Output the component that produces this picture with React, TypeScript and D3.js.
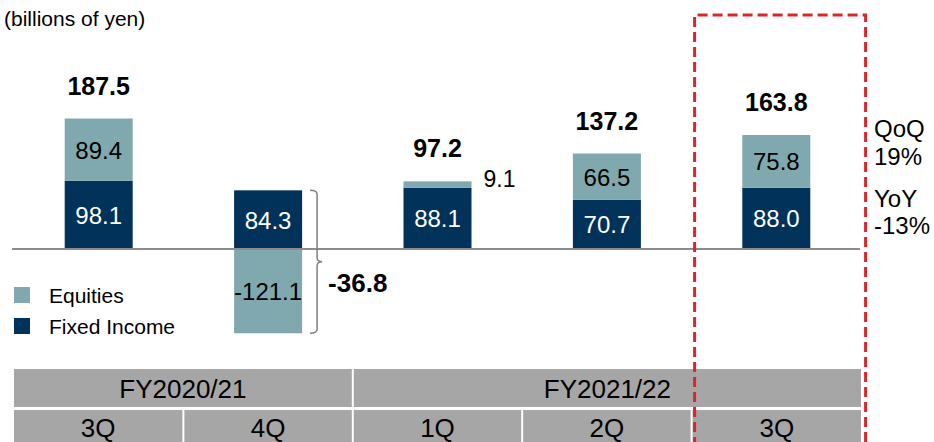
import { useEffect, useRef } from "react"
import * as d3 from "d3"

// data (billions of yen)
const quarters = ["3Q", "4Q", "1Q", "2Q", "3Q"]
const fixedIncome = [98.1, 84.3, 88.1, 70.7, 88.0]
const equities = [89.4, -121.1, 9.1, 66.5, 75.8]
const totals = [187.5, -36.8, 97.2, 137.2, 163.8]
const fiscalYears = [
  { label: "FY2020/21", from: 0, to: 1 },
  { label: "FY2021/22", from: 2, to: 4 },
]
const notes = ["QoQ", "19%", "YoY", "-13%"]

const NAVY = "#00325a"
const TEAL = "#7fa9ae"
const GRAY = "#a6a6a6"
const FONT = "'Liberation Sans', Arial, sans-serif"

const App = () => {
  const svgRef = useRef<SVGSVGElement>(null)

  useEffect(() => {
    const width = 934
    const height = 442
    const baseY = 249

    const svg = d3.select(svgRef.current)
    svg.selectAll("*").remove()
    svg.attr("width", width).attr("height", height).style("font-family", FONT)

    const idx = quarters.map((_, i) => i)
    const x = d3.scaleBand<number>().domain(idx).range([14, 861]).paddingInner(0).paddingOuter(0)
    const bw = 68
    const bx = (i: number) => (x(i) as number) + x.bandwidth() / 2 - bw / 2
    const cx = (i: number) => (x(i) as number) + x.bandwidth() / 2

    // value -> pixel, zero at baseline
    const y = d3.scaleLinear().domain([0, 100]).range([baseY, baseY - 69.6])

    svg.append("text").attr("x", 4).attr("y", 26).attr("font-size", 21).text("(billions of yen)")

    // stacked segments
    const segs: { i: number; y0: number; y1: number; v: number; c: string; kind: string }[] = []
    idx.forEach((i) => {
      segs.push({ i, y0: 0, y1: fixedIncome[i], v: fixedIncome[i], c: NAVY, kind: "fi" })
      if (equities[i] >= 0) {
        segs.push({ i, y0: fixedIncome[i], y1: fixedIncome[i] + equities[i], v: equities[i], c: TEAL, kind: "eq" })
      } else {
        segs.push({ i, y0: 0, y1: equities[i], v: equities[i], c: TEAL, kind: "eq" })
      }
    })

    svg
      .selectAll("rect.seg")
      .data(segs)
      .enter()
      .append("rect")
      .attr("class", "seg")
      .attr("x", (d) => bx(d.i))
      .attr("width", bw)
      .attr("y", (d) => Math.min(y(d.y0), y(d.y1)))
      .attr("height", (d) => Math.abs(y(d.y0) - y(d.y1)))
      .attr("fill", (d) => d.c)

    // segment labels (small segments get their label outside, to the right)
    const small = (d: { v: number }) => Math.abs(d.v) < 20
    svg
      .selectAll("text.seg")
      .data(segs)
      .enter()
      .append("text")
      .attr("class", "seg")
      .attr("x", (d) => (small(d) ? bx(d.i) + bw + 12 : cx(d.i)))
      .attr("y", (d) => (small(d) ? y(d.y1) + 6 : (y(d.y0) + y(d.y1)) / 2 + 9))
      .attr("text-anchor", (d) => (small(d) ? "start" : "middle"))
      .attr("font-size", (d) => (small(d) ? 23 : 24))
      .attr("fill", (d) => (d.kind === "fi" ? "#fff" : "#000"))
      .text((d) => d.v.toFixed(1))

    // axis line
    svg.append("line").attr("x1", 12).attr("x2", 860).attr("y1", baseY).attr("y2", baseY).attr("stroke", "#8c8c8c").attr("stroke-width", 2)

    // totals
    idx.forEach((i) => {
      if (totals[i] < 0) return
      const top = y(fixedIncome[i] + Math.max(equities[i], 0))
      svg
        .append("text")
        .attr("x", cx(i))
        .attr("y", top - 24)
        .attr("text-anchor", "middle")
        .attr("font-size", 25)
        .attr("font-weight", "bold")
        .text(totals[i].toFixed(1))
    })

    // brace for the negative quarter
    const ni = totals.findIndex((t) => t < 0)
    const bTop = y(fixedIncome[ni])
    const bBot = y(equities[ni])
    const bMid = (bTop + bBot) / 2
    const bx0 = bx(ni) + bw + 8
    const bx1 = bx0 + 7
    const tip = bx1 + 5
    const r = 4
    svg
      .append("path")
      .attr(
        "d",
        `M${bx0},${bTop} Q${bx1},${bTop} ${bx1},${bTop + r} L${bx1},${bMid - r} Q${bx1},${bMid} ${tip},${bMid} ` +
          `Q${bx1},${bMid} ${bx1},${bMid + r} L${bx1},${bBot - r} Q${bx1},${bBot} ${bx0},${bBot}`
      )
      .attr("fill", "none")
      .attr("stroke", "#7f7f7f")
      .attr("stroke-width", 1.5)
    svg
      .append("text")
      .attr("x", tip + 6)
      .attr("y", bMid + 30)
      .attr("font-size", 26)
      .attr("font-weight", "bold")
      .text(totals[ni].toFixed(1))

    // legend
    const legend = [
      { label: "Equities", c: TEAL },
      { label: "Fixed Income", c: NAVY },
    ]
    legend.forEach((l, k) => {
      const ly = 287 + k * 31
      svg.append("rect").attr("x", 14).attr("y", ly).attr("width", 16).attr("height", 16).attr("fill", l.c)
      svg.append("text").attr("x", 49).attr("y", ly + 16).attr("font-size", 21).text(l.label)
    })

    // table
    const row1 = { y: 369, h: 38 }
    const row2 = { y: 410, h: 36 }
    fiscalYears.forEach((f) => {
      const x0 = (x(f.from) as number) + (f.from === 0 ? 0 : 1)
      const x1 = (x(f.to) as number) + x.bandwidth() - (f.to === 4 ? 0 : 1)
      svg.append("rect").attr("x", x0).attr("y", row1.y).attr("width", x1 - x0).attr("height", row1.h).attr("fill", GRAY)
      svg
        .append("text")
        .attr("x", (x0 + x1) / 2)
        .attr("y", row1.y + 29)
        .attr("text-anchor", "middle")
        .attr("font-size", 26)
        .text(f.label)
    })
    idx.forEach((i) => {
      const x0 = (x(i) as number) + (i === 0 ? 0 : 1)
      const x1 = (x(i) as number) + x.bandwidth() - (i === 4 ? 0 : 1)
      svg.append("rect").attr("x", x0).attr("y", row2.y).attr("width", x1 - x0).attr("height", row2.h).attr("fill", GRAY)
      svg
        .append("text")
        .attr("x", (x0 + x1) / 2)
        .attr("y", row2.y + 27)
        .attr("text-anchor", "middle")
        .attr("font-size", 26)
        .text(quarters[i])
    })

    // highlight box around the latest quarter
    const hx0 = (x(4) as number) + 3
    const hx1 = hx0 + 171
    svg
      .append("path")
      .attr("d", `M${hx0},${height + 5} L${hx0},15 L${hx1},15 L${hx1},${height + 5}`)
      .attr("fill", "none")
      .attr("stroke", "#d9262a")
      .attr("stroke-width", 3)
      .attr("stroke-dasharray", "10,5")

    // QoQ / YoY notes
    const noteY = [137, 165, 207, 234]
    notes.forEach((n, k) => {
      svg.append("text").attr("x", 874).attr("y", noteY[k]).attr("font-size", 24).text(n)
    })
  }, [])

  return (
    <div style={{ position: "absolute", left: 0, top: 0 }}>
      <svg ref={svgRef}></svg>
    </div>
  )
}

export default App
